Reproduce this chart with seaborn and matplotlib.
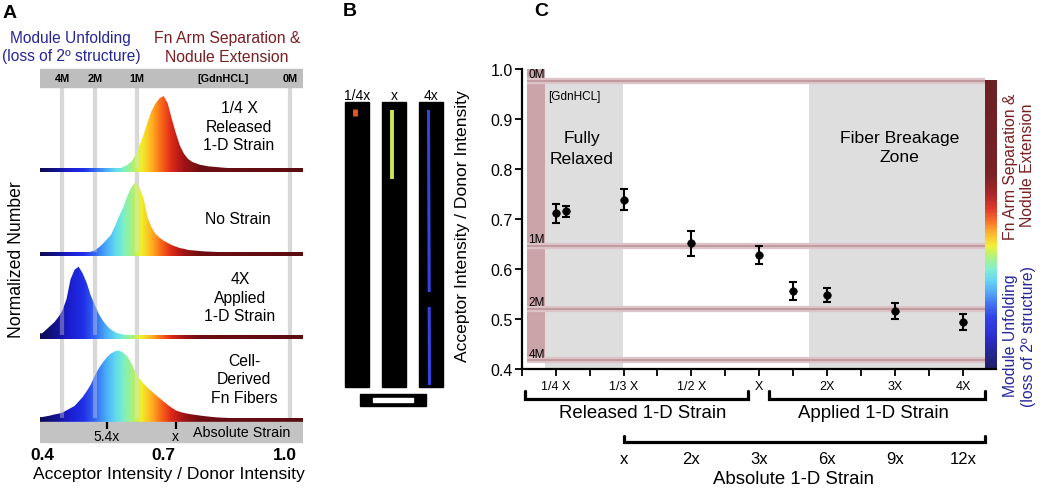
import numpy as np
import matplotlib
matplotlib.use("Agg")
import matplotlib.pyplot as plt
import seaborn as sns
from matplotlib.colors import LinearSegmentedColormap, Normalize
from matplotlib.patches import Polygon, Rectangle
from matplotlib.transforms import blended_transform_factory

sns.set_theme(style="ticks")
plt.rcParams["font.family"] = ["Liberation Sans", "DejaVu Sans"]
plt.rcParams.update({"text.color": "black", "axes.edgecolor": "black",
                     "xtick.color": "black", "ytick.color": "black"})

# ==============================
# Data - panel A (normalized histograms of acceptor/donor ratio)
# ==============================
ratio_bins = np.round(np.arange(0.40, 1.045, 0.01), 2)

hist_released = [0, 0, 0, 0, 0, 0, 0, 0, 0, 0,
                 0, 0, 0, 0, 0, 0, 0, 0, 0, 0.02,
                 0.04, 0.07, 0.11, 0.20, 0.33, 0.47, 0.64, 0.80, 0.90, 0.97,
                 1.00, 0.90, 0.69, 0.50, 0.33, 0.22, 0.15, 0.11, 0.09, 0.07,
                 0.06, 0.05, 0.045, 0.04, 0.035, 0.03, 0.027, 0.024, 0.02, 0.018,
                 0.015, 0.013, 0.011, 0.009, 0.007, 0.006, 0.005, 0.004, 0.003, 0.002,
                 0.001, 0, 0, 0, 0]
hist_no_strain = [0, 0, 0, 0, 0, 0, 0, 0, 0, 0.015,
                  0.02, 0.025, 0.03, 0.05, 0.09, 0.14, 0.20, 0.26, 0.38, 0.51,
                  0.63, 0.78, 0.90, 0.97, 0.90, 0.76, 0.50, 0.36, 0.27, 0.22,
                  0.18, 0.15, 0.12, 0.10, 0.08, 0.07, 0.055, 0.05, 0.045, 0.04,
                  0.035, 0.033, 0.03, 0.028, 0.026, 0.024, 0.022, 0.02, 0.018, 0.016,
                  0.014, 0.012, 0.01, 0.008, 0.007, 0.006, 0.005, 0.004, 0.003, 0.002,
                  0.001, 0, 0, 0, 0]
hist_applied = [0.05, 0.10, 0.15, 0.20, 0.27, 0.36, 0.51, 0.78, 0.91, 0.95,
                0.86, 0.73, 0.56, 0.43, 0.31, 0.22, 0.15, 0.10, 0.065, 0.045,
                0.033, 0.026, 0.02, 0.015, 0.011, 0.008, 0.005, 0.003, 0.001, 0,
                0, 0, 0, 0, 0, 0, 0, 0, 0, 0,
                0, 0, 0, 0, 0, 0, 0, 0, 0, 0,
                0, 0, 0, 0, 0, 0, 0, 0, 0, 0,
                0, 0, 0, 0, 0]
hist_cell = [0.04, 0.05, 0.06, 0.075, 0.085, 0.10, 0.13, 0.16, 0.19, 0.25,
             0.31, 0.39, 0.48, 0.60, 0.70, 0.78, 0.85, 0.90, 0.93, 0.94,
             0.91, 0.86, 0.77, 0.65, 0.56, 0.495, 0.44, 0.39, 0.34, 0.295,
             0.25, 0.205, 0.165, 0.13, 0.11, 0.095, 0.085, 0.075, 0.068, 0.06,
             0.053, 0.047, 0.041, 0.036, 0.033, 0.03, 0.028, 0.025, 0.022, 0.02,
             0.018, 0.016, 0.014, 0.012, 0.01, 0.009, 0.007, 0.006, 0.005, 0.003,
             0.002, 0.001, 0, 0, 0]
hist_rows = [hist_released, hist_no_strain, hist_applied, hist_cell]
row_labels = [["1/4 X", "Released", "1-D Strain"], ["No Strain"],
              ["4X", "Applied", "1-D Strain"], ["Cell-", "Derived", "Fn Fibers"]]

gdn_labels = ["4M", "2M", "1M", "0M"]
gdn_ratio_A = [0.449, 0.530, 0.634, 1.012]
abs_marks_A = [0.560, 0.730]
abs_labels_A = ["5.4x", "x"]
ratio_ticks = [0.4, 0.7, 1.0]

# ==============================
# Data - panel C (mean ratio vs strain)
# ==============================
strain_pos = [1, 3, 5, 7, 9, 11, 13]
strain_labels = ["1/4 X", "1/3 X", "1/2 X", "X", "2X", "3X", "4X"]
point_pos = [1, 1.3, 3, 5, 7, 8, 9, 11, 13]
point_mean = [0.712, 0.716, 0.739, 0.652, 0.629, 0.556, 0.549, 0.516, 0.495]
point_err = [0.019, 0.011, 0.021, 0.025, 0.018, 0.017, 0.014, 0.016, 0.016]
gdn_ratio_C = [0.418, 0.520, 0.647, 0.976]
abs_pos = [3, 5, 7, 9, 11, 13]
abs_labels = ["x", "2x", "3x", "6x", "9x", "12x"]

# ==============================
# Colours
# ==============================
xlo, xhi = 0.3946, 1.0440
norm = Normalize(vmin=xlo, vmax=xhi)
stops = [(xlo, "#0c0c55"), (0.43, "#12128a"), (0.46, "#1a1ac8"), (0.50, "#2030e8"),
         (0.53, "#3468f0"), (0.555, "#48a8f8"), (0.58, "#60d8f0"), (0.60, "#78f0c8"),
         (0.625, "#b0f070"), (0.645, "#f0f028"), (0.67, "#ffb020"), (0.695, "#f86418"),
         (0.72, "#dc2818"), (0.75, "#a01414"), (0.79, "#6e0e12"), (xhi, "#5a0c10")]
cmap = LinearSegmentedColormap.from_list(
    "fret", [((v - xlo) / (xhi - xlo), c) for v, c in stops])
BLUE = "#26269a"
DRED = "#7a1e22"

W, H = 1050, 489
fig = plt.figure(figsize=(W / 100, H / 100), dpi=100)


def px_axes(x0, y0, x1, y1):
    return fig.add_axes([x0 / W, 1 - y1 / H, (x1 - x0) / W, (y1 - y0) / H])


# ==============================
# Panel A
# ==============================
axA = px_axes(40, 0, 303, 489)
row_base = [171, 255, 338, 421]
peak_px = 74
grad = np.linspace(xlo, xhi, 400).reshape(1, -1)

axA.vlines(gdn_ratio_A, 88, 421, colors="#d3d3d3", lw=3, zorder=1)
for base, heights in zip(row_base, hist_rows):
    tops = base - np.asarray(heights) * peak_px
    verts = [(xlo, base), (xlo, tops[0])] + list(zip(ratio_bins, tops)) + [(ratio_bins[-1], base)]
    shape = Polygon(verts, closed=True, facecolor="none", edgecolor="none")
    axA.add_patch(shape)
    im = axA.imshow(grad, extent=(xlo, xhi, base, base - 80), cmap=cmap, norm=norm,
                    aspect="auto", zorder=2)
    im.set_clip_path(shape)
    axA.imshow(grad, extent=(xlo, xhi, base + 2, base - 2), cmap=cmap, norm=norm,
               aspect="auto", zorder=3)
axA.vlines(gdn_ratio_A, 88, 419, colors="#e4e4e4", lw=3, alpha=0.35, zorder=2.5)

axA.add_patch(Rectangle((xlo, 70), xhi - xlo, 18, color="#bebebe", zorder=3))
for v, lbl in zip(gdn_ratio_A, gdn_labels):
    axA.text(v, 79.5, lbl, ha="center", va="center", fontsize=7.8, weight="bold", zorder=4)
axA.text(0.846, 79.5, "[GdnHCL]", ha="center", va="center", fontsize=7.8, weight="bold", zorder=4)

axA.add_patch(Rectangle((xlo, 423), xhi - xlo, 20, color="#c3c3c3", zorder=3))
axA.vlines(abs_marks_A, 423, 430, colors="black", lw=1.6, zorder=4)
for v, lbl in zip(abs_marks_A, abs_labels_A):
    axA.text(v, 437, lbl, ha="center", va="center", fontsize=10, zorder=4)
axA.text(0.893, 433, "Absolute Strain", ha="center", va="center", fontsize=10.3, zorder=4)
for v in ratio_ticks:
    axA.text(v, 455, f"{v:.1f}", ha="center", va="center", fontsize=12.4, weight="bold")

axA.set_xlim(xlo, xhi)
axA.set_ylim(489, 0)
axA.axis("off")

# ==============================
# Panel C
# ==============================
axC = px_axes(521.7, 70, 996, 370)
cx_max = (996 - 521.7) / 33.94
top_frac = (0.974 - 0.4) / 0.6
axC.axvspan(0.69, 2.99, ymin=0, ymax=top_frac, color="#dedede", lw=0, zorder=0)
axC.axvspan(8.47, 13.65, ymin=0, ymax=top_frac, color="#dedede", lw=0, zorder=0)
axC.axvspan(0.16, 0.69, ymin=(0.416 - 0.4) / 0.6, ymax=1, color="#cba4a9", lw=0, zorder=0.5)
axC.hlines(gdn_ratio_C, 0.16, 13.65, colors="#ddc4c8", lw=4.5, zorder=1)
axC.hlines(gdn_ratio_C, 0.16, 13.65, colors="#c29ba1", lw=1.5, zorder=1.1)
cgrad = np.linspace(0.977, 0.40, 300).reshape(-1, 1)
axC.imshow(cgrad, extent=(13.65, cx_max, 0.40, 0.977), cmap=cmap, norm=norm,
           aspect="auto", alpha=0.92, zorder=1.2)

for v, lbl in zip(gdn_ratio_C, gdn_labels):
    axC.text(0.2, v + 0.007, lbl, ha="left", va="baseline", fontsize=8.5, zorder=2)
axC.text(0.775, 0.946, "[GdnHCL]", ha="left", va="center", fontsize=8.5, zorder=2)
for k, s in enumerate(["Fully", "Relaxed"]):
    axC.text(1.77, 0.862 - 0.04 * k, s, ha="center", va="center", fontsize=12.6, zorder=2)
for k, s in enumerate(["Fiber Breakage", "Zone"]):
    axC.text(11.13, 0.864 - 0.04 * k, s, ha="center", va="center", fontsize=12.6, zorder=2)

axC.errorbar(point_pos, point_mean, yerr=point_err, fmt="none", ecolor="black",
             elinewidth=1.5, capsize=3, capthick=1.5, zorder=4)
sns.scatterplot(x=point_pos, y=point_mean, color="black", s=30, edgecolor="black",
                ax=axC, zorder=5)

axC.set_xlim(0, cx_max)
axC.set_ylim(0.4, 1.0)
axC.set_xticks(strain_pos, strain_labels)
axC.set_xticks(range(0, 13, 2), minor=True)
axC.set_yticks([0.4, 0.5, 0.6, 0.7, 0.8, 0.9, 1.0],
               ["0.4", "0.5", "0.6", "0.7", "0.8", "0.9", "1.0"])
axC.tick_params(axis="x", which="both", length=5, width=1.3, pad=3, labelsize=9)
axC.tick_params(axis="y", length=5, width=1.3, pad=1.5, labelsize=11.5)
sns.despine(ax=axC)
for side in ["left", "bottom"]:
    axC.spines[side].set_linewidth(1.6)

# ==============================
# Overlay (labels, brackets, panel B)
# ==============================
ov = fig.add_axes([0, 0, 1, 1])
ov.set_xlim(0, W)
ov.set_ylim(H, 0)
ov.axis("off")

for x, y, s in [(10, 13, "A"), (350, 12, "B"), (541, 12, "C")]:
    ov.text(x, y, s, ha="center", va="center", fontsize=14, weight="bold")

# panel A text
ov.text(70, 38, "Module Unfolding", ha="center", va="center", fontsize=11.2, color=BLUE)
ov.text(71, 57, "(loss of 2º structure)", ha="center", va="center", fontsize=11.2, color=BLUE)
ov.text(227, 38, "Fn Arm Separation &", ha="center", va="center", fontsize=11.3, color=DRED)
ov.text(227, 58, "Nodule Extension", ha="center", va="center", fontsize=11.3, color=DRED)
ov.text(17, 260, "Normalized Number", rotation=90, ha="center", va="center", fontsize=12.7)
ov.text(169, 475, "Acceptor Intensity / Donor Intensity", ha="center", va="center", fontsize=12.6)
row_centers = [(239, 127), (238, 220), (240, 298), (244, 380)]
for (cx, cy), lines in zip(row_centers, row_labels):
    y0 = cy - 9.3 * (len(lines) - 1)
    for k, s in enumerate(lines):
        ov.text(cx, y0 + 18.6 * k, s, ha="center", va="center", fontsize=11.3)

# panel B (micrographs)
for x0, lbl in zip([345, 382, 419], ["1/4x", "x", "4x"]):
    ov.add_patch(Rectangle((x0, 103), 23.5, 285, color="black"))
    ov.text(x0 + 12, 96, lbl, ha="center", va="center", fontsize=10)
ov.plot([354.5, 354.5], [110, 117], color="#e8561e", lw=3.5, solid_capstyle="butt")
ov.plot([391.5, 391.5], [111, 180], color="#cde44c", lw=2.8, solid_capstyle="butt")
ov.plot([428.5, 429.2], [111, 293], color="#3444e4", lw=2.2, solid_capstyle="butt")
ov.plot([429.2, 429.5], [308, 386], color="#3444e4", lw=2.2, solid_capstyle="butt")
ov.add_patch(Rectangle((360, 395), 66, 12, color="black"))
ov.add_patch(Rectangle((373, 398.5), 40, 4.5, color="white"))

# panel C text and brackets
ov.text(463, 226, "Acceptor Intensity / Donor Intensity", rotation=90, ha="center",
        va="center", fontsize=12.6)
ov.text(1010, 167, "Fn Arm Separation &", rotation=90, ha="center", va="center",
        fontsize=11.3, color=DRED)
ov.text(1028, 165, "Nodule Extension", rotation=90, ha="center", va="center",
        fontsize=11.3, color=DRED)
ov.text(1010, 336, "Module Unfolding", rotation=90, ha="center", va="center",
        fontsize=11.3, color=BLUE)
ov.text(1028, 337, "(loss of 2º structure)", rotation=90, ha="center", va="center",
        fontsize=11.3, color=BLUE)

blend = blended_transform_factory(axC.transData, ov.transData)
strain_groups = [("Released 1-D Strain", 0.1, 6.68, 3.57), ("Applied 1-D Strain", 7.29, 13.65, 10.37)]
for name, a, b, mid in strain_groups:
    ov.plot([a, a, b, b], [392, 400, 400, 392], color="black", lw=2.3, transform=blend,
            solid_joinstyle="miter", clip_on=False)
    ov.text(mid, 413, name, ha="center", va="center", fontsize=13.4, transform=blend)
ov.plot([abs_pos[0], abs_pos[0], 13.65, 13.65], [437, 443, 443, 437], color="black", lw=2.3,
        transform=blend, solid_joinstyle="miter", clip_on=False)
for p, lbl in zip(abs_pos, abs_labels):
    ov.text(p, 460, lbl, ha="center", va="center", fontsize=12, transform=blend)
ov.text(8.0, 479, "Absolute 1-D Strain", ha="center", va="center", fontsize=13.4, transform=blend)

fig.savefig("out.png", dpi=100)
